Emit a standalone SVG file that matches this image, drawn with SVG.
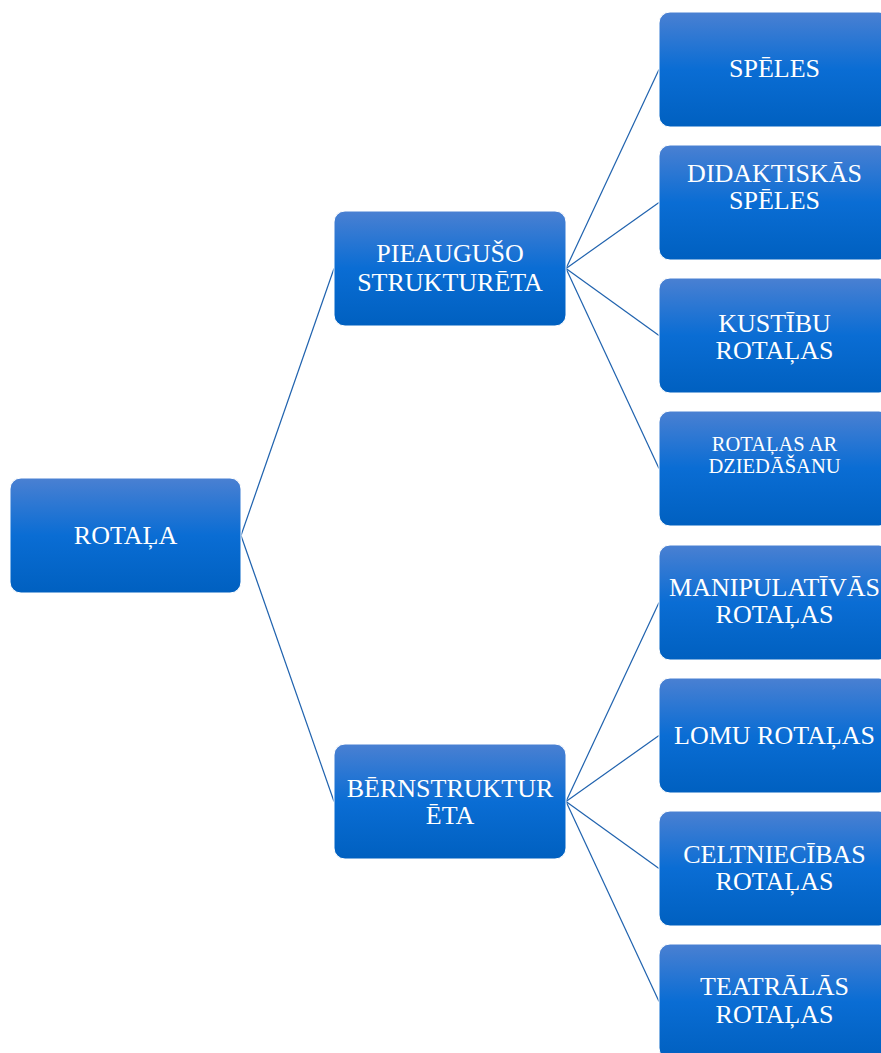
<svg xmlns="http://www.w3.org/2000/svg" width="881" height="1053" viewBox="0 0 881 1053">
  <defs>
    <linearGradient id="g" x1="0" y1="0" x2="0" y2="1">
      <stop offset="0" stop-color="#4a80d2"/>
      <stop offset="0.5" stop-color="#0a6dd4"/>
      <stop offset="1" stop-color="#0060c0"/>
    </linearGradient>
  </defs>
  <style>
    .box { fill: url(#g); stroke: #ffffff; stroke-width: 1; }
    .t { font-family: "Liberation Serif", "Times New Roman", serif; fill: #ffffff; text-anchor: middle; font-size: 26px; }
    .s { font-size: 20.5px; }
    .c line { stroke: #1f62ae; stroke-width: 1.2; fill: none; }
  </style>
  <rect width="881" height="1053" fill="#ffffff"/>
  <g class="c" id="connectors">
    <line x1="241" y1="535.5" x2="334" y2="268.5"/>
    <line x1="241" y1="535.5" x2="334" y2="801.5"/>
    <line x1="566" y1="268.5" x2="659" y2="69.5"/>
    <line x1="566" y1="268.5" x2="659" y2="202.5"/>
    <line x1="566" y1="268.5" x2="659" y2="335.5"/>
    <line x1="566" y1="268.5" x2="659" y2="468.5"/>
    <line x1="566" y1="801.5" x2="659" y2="602.5"/>
    <line x1="566" y1="801.5" x2="659" y2="735.5"/>
    <line x1="566" y1="801.5" x2="659" y2="868.5"/>
    <line x1="566" y1="801.5" x2="659" y2="1001.5"/>
  </g>
  <g id="root">
    <rect class="box" x="10" y="478" width="231" height="115" rx="11"/>
    <text class="t" x="125.5" y="544">ROTAĻA</text>
  </g>
  <g id="pieauguso">
    <rect class="box" x="334" y="211" width="232" height="115" rx="11"/>
    <text class="t" x="450" y="262">PIEAUGUŠO</text>
    <text class="t" x="450" y="290.5">STRUKTURĒTA</text>
  </g>
  <g id="bernstrukt">
    <rect class="box" x="334" y="744" width="232" height="115" rx="11"/>
    <text class="t" x="450" y="796.5">BĒRNSTRUKTUR</text>
    <text class="t" x="450" y="824">ĒTA</text>
  </g>
  <g id="speles">
    <rect class="box" x="659" y="12" width="231" height="115" rx="11"/>
    <text class="t" x="774.5" y="77">SPĒLES</text>
  </g>
  <g id="didaktiskas">
    <rect class="box" x="659" y="145" width="231" height="115" rx="11"/>
    <text class="t" x="774.5" y="182">DIDAKTISKĀS</text>
    <text class="t" x="774.5" y="209">SPĒLES</text>
  </g>
  <g id="kustibu">
    <rect class="box" x="659" y="278" width="231" height="115" rx="11"/>
    <text class="t" x="774.5" y="331.5">KUSTĪBU</text>
    <text class="t" x="774.5" y="358.5">ROTAĻAS</text>
  </g>
  <g id="dziedasanu">
    <rect class="box" x="659" y="411" width="231" height="115" rx="11"/>
    <text class="t s" x="774.5" y="450.5">ROTAĻAS AR</text>
    <text class="t s" x="774.5" y="472.5">DZIEDĀŠANU</text>
  </g>
  <g id="manipulativas">
    <rect class="box" x="659" y="545" width="231" height="115" rx="11"/>
    <text class="t" x="774.5" y="596">MANIPULATĪVĀS</text>
    <text class="t" x="774.5" y="623">ROTAĻAS</text>
  </g>
  <g id="lomu">
    <rect class="box" x="659" y="678" width="231" height="115" rx="11"/>
    <text class="t" x="774.5" y="743.5">LOMU ROTAĻAS</text>
  </g>
  <g id="celtniecibas">
    <rect class="box" x="659" y="811" width="231" height="115" rx="11"/>
    <text class="t" x="774.5" y="862.5">CELTNIECĪBAS</text>
    <text class="t" x="774.5" y="890">ROTAĻAS</text>
  </g>
  <g id="teatralas">
    <rect class="box" x="659" y="944" width="231" height="115" rx="11"/>
    <text class="t" x="774.5" y="995">TEATRĀLĀS</text>
    <text class="t" x="774.5" y="1022.5">ROTAĻAS</text>
  </g>
</svg>
